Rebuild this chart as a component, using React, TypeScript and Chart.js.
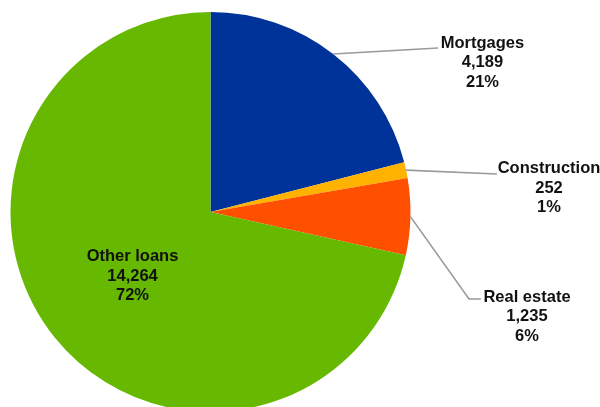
import React, { useEffect, useRef } from "react";
import { Chart, registerables } from "chart.js";

Chart.register(...registerables);

const categories = ["Mortgages", "Construction", "Real estate", "Other loans"];
const values = [4189, 252, 1235, 14264];
const colors = ["#003399", "#FFB300", "#FF4F00", "#66B800"];

// label layout: text centre x, first baseline, leader line points (null = inside label)
const labelLayout: ({ x: number; y: number; pts: number[][] } | null)[] = [
  { x: 482.5, y: 47.5, pts: [[438, 48]] },
  { x: 549, y: 173, pts: [[497, 174]] },
  { x: 527, y: 301.5, pts: [[469, 299], [481, 299]] },
  null,
];

const FONT = "bold 16.5px 'Liberation Sans', Arial, sans-serif";
const LINE_H = 19.5;

const labelPlugin = {
  id: "pieLabels",
  afterDatasetsDraw(chart: any) {
    const ctx = chart.ctx as CanvasRenderingContext2D;
    const meta = chart.getDatasetMeta(0);
    const data = chart.data.datasets[0].data as number[];
    const total = data.reduce((a, b) => a + b, 0);
    ctx.save();
    ctx.font = FONT;
    ctx.textAlign = "center";
    ctx.textBaseline = "alphabetic";
    meta.data.forEach((arc: any, i: number) => {
      const p = arc.getProps(["x", "y", "startAngle", "endAngle", "outerRadius"], true);
      const lines = [
        chart.data.labels[i] as string,
        data[i].toLocaleString("en-US"),
        Math.round((data[i] / total) * 100) + "%",
      ];
      const lay = labelLayout[i];
      let tx: number, ty: number;
      if (lay) {
        const mid = (p.startAngle + p.endAngle) / 2;
        const sx = p.x + Math.cos(mid) * p.outerRadius;
        const sy = p.y + Math.sin(mid) * p.outerRadius;
        ctx.strokeStyle = "#9a9a9a";
        ctx.lineWidth = 1.6;
        ctx.beginPath();
        ctx.moveTo(sx, sy);
        lay.pts.forEach((pt) => ctx.lineTo(pt[0], pt[1]));
        ctx.stroke();
        tx = lay.x;
        ty = lay.y;
      } else {
        const c = arc.getCenterPoint(true);
        tx = c.x;
        ty = c.y - LINE_H + 6;
      }
      ctx.fillStyle = "#111111";
      lines.forEach((t, k) => ctx.fillText(t, tx, ty + k * LINE_H));
    });
    ctx.restore();
  },
};

export default function App() {
  const ref = useRef<HTMLCanvasElement | null>(null);
  useEffect(() => {
    if (!ref.current) return;
    const chart = new Chart(ref.current, {
      type: "pie",
      data: {
        labels: categories,
        datasets: [
          {
            data: values,
            backgroundColor: colors,
            borderWidth: 0,
            hoverOffset: 0,
          },
        ],
      },
      options: {
        animation: false,
        responsive: false,
        devicePixelRatio: 1,
        layout: { padding: { left: 10.5, top: 12, right: 189.5, bottom: 8 } },
        plugins: { legend: { display: false }, tooltip: { enabled: false } },
        events: [],
      },
      plugins: [labelPlugin],
    });
    return () => chart.destroy();
  }, []);
  return (
    <div
      style={{
        position: "fixed",
        left: 0,
        top: 0,
        width: 600,
        height: 407,
        overflow: "hidden",
        background: "#fff",
      }}
    >
      <canvas ref={ref} width={600} height={420} style={{ display: "block", width: 600, height: 420 }} />
    </div>
  );
}
